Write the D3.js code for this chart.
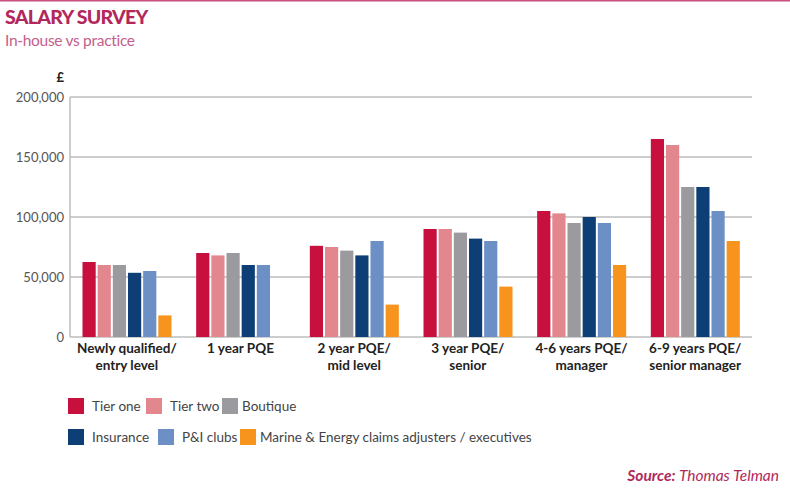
<!DOCTYPE html>
<html>
<head>
<meta charset="utf-8">
<script src="https://cdn.jsdelivr.net/npm/d3@7"></script>
<style>
  body { margin: 0; background: #fff; }
  svg { display: block; font-family: Lato, "Open Sans", sans-serif; }
</style>
</head>
<body>
<div id="chart"></div>
<script>
// chart data
const categories = [
    ["Newly qualified/", "entry level"],
    ["1 year PQE"],
    ["2 year PQE/", "mid level"],
    ["3 year PQE/", "senior"],
    ["4-6 years PQE/", "manager"],
    ["6-9 years PQE/", "senior manager"]
];
const seriesNames = ["Tier one", "Tier two", "Boutique", "Insurance", "P&I clubs", "Marine & Energy claims adjusters / executives"];
const tierOne   = [62500, 70000, 76000, 90000, 105000, 165000];
const tierTwo   = [60000, 68000, 75000, 90000, 103000, 160000];
const boutique  = [60000, 70000, 72000, 87000, 95000, 125000];
const insurance = [53500, 60000, 68000, 82000, 100000, 125000];
const piClubs   = [55000, 60000, 80000, 80000, 95000, 105000];
const marine    = [18000, null, 27000, 42000, 60000, 80000];
const yTicks = [0, 50000, 100000, 150000, 200000];
const colors = ["#c8103e", "#e2878d", "#9b9b9f", "#0d3f76", "#6c90c6", "#f7941d"];

const allSeries = [tierOne, tierTwo, boutique, insurance, piClubs, marine];

const width = 790, height = 489;
const plotLeft = 70, plotRight = 752, plotTop = 97, plotBottom = 337;

const svg = d3.select('#chart')
    .append('svg')
    .attr('width', width)
    .attr('height', height);

// top rule
svg.append('line')
    .attr('x1', 0).attr('x2', width)
    .attr('y1', 0.75).attr('y2', 0.75)
    .attr('stroke', '#c7507e')
    .attr('stroke-width', 1.5);

// titles
svg.append('text')
    .attr('x', 5).attr('y', 24)
    .style('font-size', '19.5px')
    .style('font-weight', 900)
    .style('letter-spacing', '-0.7px')
    .attr('fill', '#b3285c')
    .text('SALARY SURVEY');

svg.append('text')
    .attr('x', 5).attr('y', 46)
    .style('font-size', '15.5px')
    .style('letter-spacing', '-0.3px')
    .attr('fill', '#c4608b')
    .text('In-house vs practice');

// scales
const x0 = d3.scaleBand()
    .domain(d3.range(categories.length))
    .range([plotLeft, plotRight]);
const x1 = d3.scaleBand()
    .domain(d3.range(seriesNames.length))
    .range([12.5, 101.5])
    .paddingInner(0.13);
const y = d3.scaleLinear()
    .domain([0, 200000])
    .range([plotBottom, plotTop]);

// gridlines
svg.append('g')
    .selectAll('line')
    .data(yTicks)
    .join('line')
    .attr('x1', plotLeft).attr('x2', plotRight)
    .attr('y1', d => y(d)).attr('y2', d => y(d))
    .attr('stroke', '#bdbdbd')
    .attr('stroke-width', 1.5);

// left axis line
svg.append('line')
    .attr('x1', plotLeft).attr('x2', plotLeft)
    .attr('y1', plotTop).attr('y2', plotBottom)
    .attr('stroke', '#bdbdbd')
    .attr('stroke-width', 1.5);

// y tick labels
svg.append('g')
    .selectAll('text')
    .data(yTicks)
    .join('text')
    .attr('x', 64)
    .attr('y', d => y(d) + 4.5)
    .attr('text-anchor', 'end')
    .style('font-size', '13px')
    .attr('fill', '#555')
    .text(d => d3.format(',')(d));

svg.append('text')
    .attr('x', 64).attr('y', 82)
    .attr('text-anchor', 'end')
    .style('font-size', '13px')
    .style('font-weight', 'bold')
    .attr('fill', '#222')
    .text('£');

// bars
allSeries.forEach((vals, s) => {
    svg.append('g')
        .selectAll('rect')
        .data(vals.map((v, i) => ({ i, v })).filter(d => d.v != null))
        .join('rect')
        .attr('x', d => x0(d.i) + x1(s))
        .attr('y', d => y(d.v))
        .attr('width', x1.bandwidth())
        .attr('height', d => plotBottom - y(d.v))
        .attr('fill', colors[s]);
});

// x labels
const xl = svg.append('g')
    .selectAll('text')
    .data(categories)
    .join('text')
    .attr('x', (d, i) => x0(i) + x0.bandwidth() / 2)
    .attr('y', 353)
    .attr('text-anchor', 'middle')
    .style('font-size', '13.5px')
    .style('font-weight', 'bold')
    .attr('fill', '#222');
xl.selectAll('tspan')
    .data(d => d)
    .join('tspan')
    .attr('x', function () { return d3.select(this.parentNode).attr('x'); })
    .attr('dy', (d, j) => j === 0 ? 0 : 17)
    .text(d => d);

// legend
const legendPos = [
    { x: 68, y: 398 }, { x: 146, y: 398 }, { x: 222, y: 398 },
    { x: 68, y: 429 }, { x: 158, y: 429 }, { x: 240, y: 429 }
];
const legend = svg.append('g')
    .selectAll('g')
    .data(seriesNames)
    .join('g')
    .attr('transform', (d, i) => `translate(${legendPos[i].x},${legendPos[i].y})`);
legend.append('rect')
    .attr('width', 16).attr('height', 16)
    .attr('fill', (d, i) => colors[i]);
legend.append('text')
    .attr('x', (d, i) => i === 2 || i === 5 ? 20 : 24)
    .attr('y', 13)
    .style('font-size', '13.5px')
    .attr('fill', '#444')
    .text(d => d);

// source
const src = svg.append('text')
    .attr('x', 779).attr('y', 481)
    .attr('text-anchor', 'end')
    .style('font-size', '15.5px')
    .style('font-style', 'italic')
    .attr('fill', '#b02a5c');
src.append('tspan').style('font-weight', 'bold').text('Source: ');
src.append('tspan').text('Thomas Telman');
</script>
</body>
</html>
